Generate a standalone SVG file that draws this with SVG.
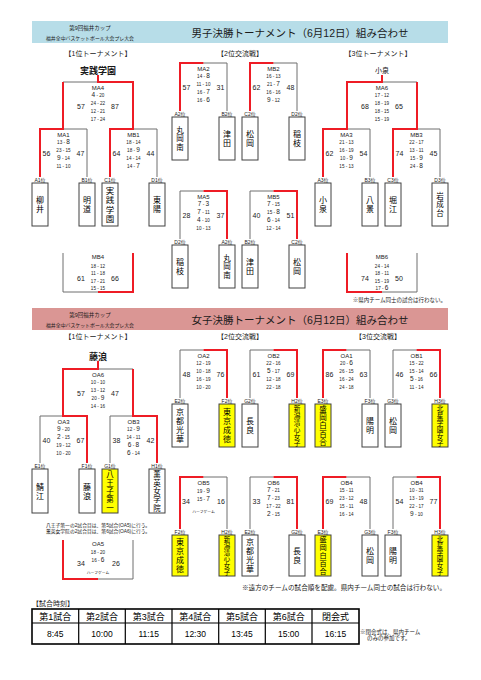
<svg xmlns="http://www.w3.org/2000/svg" width="481" height="680" viewBox="0 0 481 680">
<style>
text{font-family:"Liberation Sans","Noto Sans CJK JP",sans-serif;fill:#1a1a1a}
.ml{font-size:6px;text-anchor:middle}
.s{font-size:4.6px;text-anchor:middle}
.d{font-size:6.5px}
.t{font-size:7px;text-anchor:middle}
.pl{font-size:5px;text-anchor:middle}
.tn{font-size:8px;text-anchor:middle;fill:#000}
.t3{font-size:7.5px;text-anchor:middle;fill:#000}
.t5{font-size:7.5px;text-anchor:middle;fill:#000}
.t6{font-size:6.6px;text-anchor:middle;fill:#000}
.hs{font-size:5.5px;text-anchor:middle}
.hs2{font-size:4.9px;text-anchor:middle}
.ttl{font-size:10.5px;text-anchor:middle}
.sub{font-size:7px;text-anchor:middle}
.win{font-size:9px;font-weight:bold;text-anchor:middle}
.hf{font-size:3.8px;text-anchor:middle}
.nt{font-size:4.8px;text-anchor:middle}
.g{fill:none;stroke:#6e6e6e;stroke-width:1}
.r{fill:none;stroke:#ee1c25;stroke-width:2}
.bx{fill:#fff;stroke:#404040;stroke-width:1}
.yb{fill:#ffff00;stroke:#404040;stroke-width:1}
.th{font-size:9px;text-anchor:middle;fill:#000}
.td{font-size:8.5px;text-anchor:middle;fill:#000}
</style>
<rect width="481" height="680" fill="#fff"/>

<!-- ===== headers ===== -->
<g id="header-boys">
<rect x="32" y="21" width="416" height="22" fill="#b7dde8"/>
<text class="hs" x="90" y="29.5">第9回福井カップ</text>
<text class="hs2" x="90" y="40">福井全中バスケットボール大会プレ大会</text>
<text class="ttl" x="300" y="36.5">男子決勝トーナメント（6月12日）組み合わせ</text>
<text class="sub" x="98" y="55.5">【1位トーナメント】</text>
<text class="sub" x="240" y="55.5">【2位交流戦】</text>
<text class="sub" x="378" y="55.5">【3位トーナメント】</text>
</g>
<g id="header-girls">
<rect x="32" y="308" width="416" height="22" fill="#da9694"/>
<text class="hs" x="90" y="316.5">第9回福井カップ</text>
<text class="hs2" x="90" y="327">福井全中バスケットボール大会プレ大会</text>
<text class="ttl" x="300" y="323.5">女子決勝トーナメント（6月12日）組み合わせ</text>
<text class="sub" x="98" y="339">【1位トーナメント】</text>
<text class="sub" x="240" y="339">【2位交流戦】</text>
<text class="sub" x="378" y="339">【3位交流戦】</text>
</g>

<!-- ===== connectors ===== -->
<g id="connectors">
<!-- boys left -->
<path class="g" d="M63,82 H98"/>
<path class="g" d="M63,129 H87 V177"/>
<path class="g" d="M133,129 H157 V177"/>
<path class="r" d="M98,75 V82 H133 V129 H110 V177"/>
<path class="r" d="M63,82 V129 H40 V177"/>
<path class="g" d="M98,292 H63 V253"/>
<path class="r" d="M98,292 H133 V253"/>
<!-- boys middle -->
<path class="r" d="M203.5,63 H180 V111"/>
<path class="g" d="M203.5,63 H227 V111"/>
<path class="r" d="M273.5,63 H250 V111"/>
<path class="g" d="M273.5,63 H297 V111"/>
<path class="g" d="M203.5,191 H180 V239"/>
<path class="r" d="M203.5,191 H227 V239"/>
<path class="g" d="M273.5,191 H250 V239"/>
<path class="r" d="M273.5,191 H297 V239"/>
<!-- boys right -->
<path class="g" d="M382,82 H417"/>
<path class="g" d="M347,129 H370 V177"/>
<path class="g" d="M417,129 H440 V177"/>
<path class="r" d="M382,75 V82 H347 V129 H323 V177"/>
<path class="r" d="M417,82 V129 H393 V177"/>
<path class="r" d="M347,253 V292 H382"/>
<path class="g" d="M382,292 H417 V253"/>
<!-- girls left -->
<path class="g" d="M98,369 H133"/>
<path class="g" d="M63,416 H40 V463"/>
<path class="g" d="M133,416 H110 V463"/>
<path class="r" d="M98,361 V369 H63 V416 H87 V463"/>
<path class="r" d="M133,369 V416 H157 V463"/>
<path class="r" d="M63,540 V579 H98"/>
<path class="g" d="M98,579 H133 V540"/>
<!-- girls middle -->
<path class="g" d="M203.5,350 H180 V398"/>
<path class="r" d="M203.5,350 H227 V398"/>
<path class="g" d="M273.5,350 H250 V398"/>
<path class="r" d="M273.5,350 H297 V398"/>
<path class="r" d="M203.5,477 H180 V529"/>
<path class="g" d="M203.5,477 H227 V529"/>
<path class="g" d="M273.5,477 H250 V529"/>
<path class="r" d="M273.5,477 H297 V529"/>
<!-- girls right -->
<path class="r" d="M346.5,350 H323 V398"/>
<path class="g" d="M346.5,350 H370 V398"/>
<path class="g" d="M416.5,350 H393 V398"/>
<path class="r" d="M416.5,350 H440 V398"/>
<path class="r" d="M346.5,477 H323 V529"/>
<path class="g" d="M346.5,477 H370 V529"/>
<path class="g" d="M416.5,477 H393 V529"/>
<path class="r" d="M416.5,477 H440 V529"/>
</g>

<!-- ===== winners ===== -->
<g id="winner-boys-1"><text class="win" x="98" y="73.5">実践学園</text></g>
<g id="winner-boys-3"><text class="sub" x="382" y="73">小泉</text></g>
<g id="winner-girls-1"><text class="win" x="98" y="359.5">藤浪</text></g>

<!-- ===== matches (boys) ===== -->
<g id="MA4">
<text class="ml" x="98" y="89.5">MA4</text>
<text class="s" x="98" y="96.5"><tspan class="d">4</tspan> - 20</text>
<text class="s" x="98" y="104.5">24 - 22</text>
<text class="s" x="98" y="112.5">12 - 21</text>
<text class="s" x="98" y="120.5">17 - 24</text>
<text class="t" x="81" y="108.5">57</text>
<text class="t" x="115" y="108.5">87</text>
</g>
<g id="MA1">
<text class="ml" x="63.5" y="136.5">MA1</text>
<text class="s" x="63.5" y="143.5">13 - <tspan class="d">8</tspan></text>
<text class="s" x="63.5" y="151.5">23 - 15</text>
<text class="s" x="63.5" y="159.5"><tspan class="d">9</tspan> - 14</text>
<text class="s" x="63.5" y="167.5">11 - 10</text>
<text class="t" x="46.5" y="155.5">56</text>
<text class="t" x="80.5" y="155.5">47</text>
</g>
<g id="MB1">
<text class="ml" x="133.5" y="136.5">MB1</text>
<text class="s" x="133.5" y="143.5">18 - 14</text>
<text class="s" x="133.5" y="151.5">18 - <tspan class="d">9</tspan></text>
<text class="s" x="133.5" y="159.5">14 - 14</text>
<text class="s" x="133.5" y="167.5">14 - <tspan class="d">7</tspan></text>
<text class="t" x="116.5" y="155.5">64</text>
<text class="t" x="150.5" y="155.5">44</text>
</g>
<g id="MB4">
<text class="ml" x="98" y="259">MB4</text>
<text class="s" x="98" y="267.5">18 - 12</text>
<text class="s" x="98" y="275">11 - 18</text>
<text class="s" x="98" y="282.5">17 - 21</text>
<text class="s" x="98" y="290">15 - 15</text>
<text class="t" x="81" y="280.5">61</text>
<text class="t" x="115" y="280.5">66</text>
</g>
<g id="MA2">
<text class="ml" x="203.5" y="70.5">MA2</text>
<text class="s" x="203.5" y="77.5">14 - <tspan class="d">8</tspan></text>
<text class="s" x="203.5" y="85.5">11 - 10</text>
<text class="s" x="203.5" y="93.5">16 - <tspan class="d">7</tspan></text>
<text class="s" x="203.5" y="101.5">16 - <tspan class="d">6</tspan></text>
<text class="t" x="186.5" y="89.5">57</text>
<text class="t" x="220.5" y="89.5">31</text>
</g>
<g id="MB2">
<text class="ml" x="273.5" y="70.5">MB2</text>
<text class="s" x="273.5" y="77.5">16 - 13</text>
<text class="s" x="273.5" y="85.5">21 - <tspan class="d">7</tspan></text>
<text class="s" x="273.5" y="93.5">16 - 16</text>
<text class="s" x="273.5" y="101.5"><tspan class="d">9</tspan> - 12</text>
<text class="t" x="256.5" y="89.5">62</text>
<text class="t" x="290.5" y="89.5">48</text>
</g>
<g id="MA5">
<text class="ml" x="203.5" y="198.5">MA5</text>
<text class="s" x="203.5" y="205.5"><tspan class="d">7</tspan> - <tspan class="d">3</tspan></text>
<text class="s" x="203.5" y="213.5"><tspan class="d">7</tspan> - 11</text>
<text class="s" x="203.5" y="221.5"><tspan class="d">4</tspan> - 10</text>
<text class="s" x="203.5" y="229.5">10 - 13</text>
<text class="t" x="186.5" y="217.5">28</text>
<text class="t" x="220.5" y="217.5">37</text>
</g>
<g id="MB5">
<text class="ml" x="273.5" y="198.5">MB5</text>
<text class="s" x="273.5" y="205.5"><tspan class="d">7</tspan> - 15</text>
<text class="s" x="273.5" y="213.5">15 - <tspan class="d">8</tspan></text>
<text class="s" x="273.5" y="221.5"><tspan class="d">6</tspan> - 14</text>
<text class="s" x="273.5" y="229.5">12 - 14</text>
<text class="t" x="256.5" y="217.5">40</text>
<text class="t" x="290.5" y="217.5">51</text>
</g>
<g id="MA6">
<text class="ml" x="382" y="89.5">MA6</text>
<text class="s" x="382" y="96.5">17 - 12</text>
<text class="s" x="382" y="104.5">18 - 19</text>
<text class="s" x="382" y="112.5">18 - 15</text>
<text class="s" x="382" y="120.5">15 - 19</text>
<text class="t" x="365" y="108.5">68</text>
<text class="t" x="399" y="108.5">65</text>
</g>
<g id="MA3">
<text class="ml" x="346.5" y="136.5">MA3</text>
<text class="s" x="346.5" y="143.5">21 - 13</text>
<text class="s" x="346.5" y="151.5">16 - 19</text>
<text class="s" x="346.5" y="159.5">10 - <tspan class="d">9</tspan></text>
<text class="s" x="346.5" y="167.5">15 - 13</text>
<text class="t" x="329.5" y="155.5">62</text>
<text class="t" x="363.5" y="155.5">54</text>
</g>
<g id="MB3">
<text class="ml" x="416.5" y="136.5">MB3</text>
<text class="s" x="416.5" y="143.5">22 - 17</text>
<text class="s" x="416.5" y="151.5">13 - 11</text>
<text class="s" x="416.5" y="159.5">15 - <tspan class="d">9</tspan></text>
<text class="s" x="416.5" y="167.5">24 - <tspan class="d">8</tspan></text>
<text class="t" x="399.5" y="155.5">74</text>
<text class="t" x="433.5" y="155.5">45</text>
</g>
<g id="MB6">
<text class="ml" x="382" y="259">MB6</text>
<text class="s" x="382" y="267.5">24 - 14</text>
<text class="s" x="382" y="275">18 - 11</text>
<text class="s" x="382" y="282.5">15 - 19</text>
<text class="s" x="382" y="290">17 - <tspan class="d">6</tspan></text>
<text class="t" x="365" y="280.5">74</text>
<text class="t" x="399" y="280.5">50</text>
</g>
<g id="note-boys"><text x="446" y="302" style="font-size:5.5px;text-anchor:end">※県内チーム同士の試合は行わない。</text></g>

<!-- ===== matches (girls) ===== -->
<g id="OA6">
<text class="ml" x="98" y="376.5">OA6</text>
<text class="s" x="98" y="383.5">10 - 10</text>
<text class="s" x="98" y="391.5">13 - 12</text>
<text class="s" x="98" y="399.5">20 - <tspan class="d">9</tspan></text>
<text class="s" x="98" y="407.5">14 - 16</text>
<text class="t" x="81" y="395.5">57</text>
<text class="t" x="115" y="395.5">47</text>
</g>
<g id="OA3">
<text class="ml" x="63.5" y="423.5">OA3</text>
<text class="s" x="63.5" y="430.5"><tspan class="d">9</tspan> - 20</text>
<text class="s" x="63.5" y="438.5"><tspan class="d">2</tspan> - 15</text>
<text class="s" x="63.5" y="446.5">19 - 12</text>
<text class="s" x="63.5" y="454.5">10 - 20</text>
<text class="t" x="46.5" y="442.5">40</text>
<text class="t" x="80.5" y="442.5">67</text>
</g>
<g id="OB3">
<text class="ml" x="133.5" y="423.5">OB3</text>
<text class="s" x="133.5" y="430.5">12 - <tspan class="d">9</tspan></text>
<text class="s" x="133.5" y="438.5">14 - 11</text>
<text class="s" x="133.5" y="446.5"><tspan class="d">6</tspan> - <tspan class="d">8</tspan></text>
<text class="s" x="133.5" y="454.5"><tspan class="d">6</tspan> - 14</text>
<text class="t" x="116.5" y="442.5">38</text>
<text class="t" x="150.5" y="442.5">42</text>
</g>
<g id="note-girls-1">
<text class="nt" x="98" y="527">八王子第一の2試合目は、第5試合(OA5)に行う。</text>
<text class="nt" x="98" y="533">薫英女学院の2試合目は、第6試合(OA6)に行う。</text>
</g>
<g id="OA5">
<text class="ml" x="98" y="545.5">OA5</text>
<text class="s" x="98" y="554">18 - 20</text>
<text class="s" x="98" y="562">16 - <tspan class="d">6</tspan></text>
<text class="hf" x="98" y="573.5">ハーフゲーム</text>
<text class="t" x="81" y="565.5">34</text>
<text class="t" x="116" y="565.5">26</text>
</g>
<g id="OA2">
<text class="ml" x="203.5" y="357.5">OA2</text>
<text class="s" x="203.5" y="364.5">12 - 19</text>
<text class="s" x="203.5" y="372.5">10 - 18</text>
<text class="s" x="203.5" y="380.5">16 - 19</text>
<text class="s" x="203.5" y="388.5">10 - 20</text>
<text class="t" x="186.5" y="376.5">48</text>
<text class="t" x="220.5" y="376.5">76</text>
</g>
<g id="OB2">
<text class="ml" x="273.5" y="357.5">OB2</text>
<text class="s" x="273.5" y="364.5">22 - 16</text>
<text class="s" x="273.5" y="372.5"><tspan class="d">5</tspan> - 17</text>
<text class="s" x="273.5" y="380.5">12 - 18</text>
<text class="s" x="273.5" y="388.5">22 - 18</text>
<text class="t" x="256.5" y="376.5">61</text>
<text class="t" x="290.5" y="376.5">69</text>
</g>
<g id="OB5">
<text class="ml" x="203.5" y="485">OB5</text>
<text class="s" x="203.5" y="493">19 - <tspan class="d">9</tspan></text>
<text class="s" x="203.5" y="500.5">15 - <tspan class="d">7</tspan></text>
<text class="hf" x="203.5" y="512.5">ハーフゲーム</text>
<text class="t" x="186" y="504">34</text>
<text class="t" x="221" y="504">16</text>
</g>
<g id="OB6">
<text class="ml" x="273.5" y="484.5">OB6</text>
<text class="s" x="273.5" y="491.5"><tspan class="d">7</tspan> - 21</text>
<text class="s" x="273.5" y="499.5"><tspan class="d">7</tspan> - 23</text>
<text class="s" x="273.5" y="507.5">17 - 22</text>
<text class="s" x="273.5" y="515.5"><tspan class="d">2</tspan> - 15</text>
<text class="t" x="256.5" y="503.5">33</text>
<text class="t" x="290.5" y="503.5">81</text>
</g>
<g id="OA1">
<text class="ml" x="346.5" y="357.5">OA1</text>
<text class="s" x="346.5" y="364.5">20 - <tspan class="d">6</tspan></text>
<text class="s" x="346.5" y="372.5">26 - 15</text>
<text class="s" x="346.5" y="380.5">16 - 24</text>
<text class="s" x="346.5" y="388.5">24 - 18</text>
<text class="t" x="329.5" y="376.5">86</text>
<text class="t" x="363.5" y="376.5">63</text>
</g>
<g id="OB1">
<text class="ml" x="416.5" y="357.5">OB1</text>
<text class="s" x="416.5" y="364.5">15 - 22</text>
<text class="s" x="416.5" y="372.5">15 - 14</text>
<text class="s" x="416.5" y="380.5"><tspan class="d">5</tspan> - 16</text>
<text class="s" x="416.5" y="388.5">11 - 14</text>
<text class="t" x="399.5" y="376.5">46</text>
<text class="t" x="433.5" y="376.5">66</text>
</g>
<g id="OB4-a">
<text class="ml" x="346.5" y="484.5">OB4</text>
<text class="s" x="346.5" y="491.5">15 - 11</text>
<text class="s" x="346.5" y="499.5">23 - 12</text>
<text class="s" x="346.5" y="507.5">15 - 11</text>
<text class="s" x="346.5" y="515.5">16 - 14</text>
<text class="t" x="329.5" y="503.5">69</text>
<text class="t" x="363.5" y="503.5">48</text>
</g>
<g id="OB4-b">
<text class="ml" x="416.5" y="484.5">OB4</text>
<text class="s" x="416.5" y="491.5">10 - 31</text>
<text class="s" x="416.5" y="499.5">13 - 19</text>
<text class="s" x="416.5" y="507.5">22 - 17</text>
<text class="s" x="416.5" y="515.5"><tspan class="d">9</tspan> - 10</text>
<text class="t" x="399.5" y="503.5">54</text>
<text class="t" x="433.5" y="503.5">77</text>
</g>
<g id="note-girls-2"><text x="446" y="589.5" style="font-size:6.6px;text-anchor:end">※遠方のチームの試合順を配慮。県内チーム同士の試合は行わない。</text></g>

<!-- ===== team boxes (boys) ===== -->
<g id="b-A1"><text class="pl" x="40" y="182">A1位</text><rect class="bx" x="32" y="183" width="16" height="43"/><text class="tn"><tspan x="40" y="203">柳</tspan><tspan x="40" y="212">井</tspan></text></g>
<g id="b-B1"><text class="pl" x="87" y="182">B1位</text><rect class="bx" x="79" y="183" width="16" height="43"/><text class="tn"><tspan x="87" y="203">明</tspan><tspan x="87" y="212">道</tspan></text></g>
<g id="b-C1"><text class="pl" x="110" y="182">C1位</text><rect class="bx" x="102" y="183" width="16" height="43"/><text class="tn" style="font-size:8.5px"><tspan x="110" y="193.5">実</tspan><tspan x="110" y="203">践</tspan><tspan x="110" y="212.5">学</tspan><tspan x="110" y="222">園</tspan></text></g>
<g id="b-D1"><text class="pl" x="157" y="182">D1位</text><rect class="bx" x="149" y="183" width="16" height="43"/><text class="tn"><tspan x="157" y="203">東</tspan><tspan x="157" y="212">陽</tspan></text></g>

<g id="b-A2a"><text class="pl" x="180" y="116">A2位</text><rect class="bx" x="172" y="117" width="16" height="43"/><text class="t3"><tspan x="180" y="133.2">丸</tspan><tspan x="180" y="141.4">岡</tspan><tspan x="180" y="149.6">南</tspan></text></g>
<g id="b-B2a"><text class="pl" x="227" y="116">B2位</text><rect class="bx" x="219" y="117" width="16" height="43"/><text class="tn"><tspan x="227" y="137">津</tspan><tspan x="227" y="146">田</tspan></text></g>
<g id="b-C2a"><text class="pl" x="250" y="116">C2位</text><rect class="bx" x="242" y="117" width="16" height="43"/><text class="tn"><tspan x="250" y="137">松</tspan><tspan x="250" y="146">岡</tspan></text></g>
<g id="b-D2a"><text class="pl" x="297" y="116">D2位</text><rect class="bx" x="289" y="117" width="16" height="43"/><text class="tn"><tspan x="297" y="137">稲</tspan><tspan x="297" y="146">枝</tspan></text></g>

<g id="b-D2b"><text class="pl" x="180" y="244">D2位</text><rect class="bx" x="172" y="245" width="16" height="43"/><text class="tn"><tspan x="180" y="265">稲</tspan><tspan x="180" y="274">枝</tspan></text></g>
<g id="b-A2b"><text class="pl" x="227" y="244">A2位</text><rect class="bx" x="219" y="245" width="16" height="43"/><text class="t3"><tspan x="227" y="261.2">丸</tspan><tspan x="227" y="269.4">岡</tspan><tspan x="227" y="277.6">南</tspan></text></g>
<g id="b-B2b"><text class="pl" x="250" y="244">B2位</text><rect class="bx" x="242" y="245" width="16" height="43"/><text class="tn"><tspan x="250" y="265">津</tspan><tspan x="250" y="274">田</tspan></text></g>
<g id="b-C2b"><text class="pl" x="297" y="244">C2位</text><rect class="bx" x="289" y="245" width="16" height="43"/><text class="tn"><tspan x="297" y="265">松</tspan><tspan x="297" y="274">岡</tspan></text></g>

<g id="b-A3"><text class="pl" x="323" y="182">A3位</text><rect class="bx" x="315" y="183" width="16" height="43"/><text class="tn"><tspan x="323" y="203">小</tspan><tspan x="323" y="212">泉</tspan></text></g>
<g id="b-B3"><text class="pl" x="370" y="182">B3位</text><rect class="bx" x="362" y="183" width="16" height="43"/><text class="tn"><tspan x="370" y="203">八</tspan><tspan x="370" y="212">景</tspan></text></g>
<g id="b-C3"><text class="pl" x="393" y="182">C3位</text><rect class="bx" x="385" y="183" width="16" height="43"/><text class="tn"><tspan x="393" y="203">堀</tspan><tspan x="393" y="212">江</tspan></text></g>
<g id="b-D3"><text class="pl" x="440" y="182">D3位</text><rect class="bx" x="432" y="183" width="16" height="43"/><text class="t3"><tspan x="440" y="199.2">岩</tspan><tspan x="440" y="207.4">成</tspan><tspan x="440" y="215.6">台</tspan></text></g>

<!-- ===== team boxes (girls) ===== -->
<g id="g-E1"><text class="pl" x="40" y="468">E1位</text><rect class="bx" x="32" y="469" width="16" height="44"/><text class="tn"><tspan x="40" y="489.5">鯖</tspan><tspan x="40" y="498.5">江</tspan></text></g>
<g id="g-F1"><text class="pl" x="87" y="468">F1位</text><rect class="bx" x="79" y="469" width="16" height="44"/><text class="tn"><tspan x="87" y="489.5">藤</tspan><tspan x="87" y="498.5">浪</tspan></text></g>
<g id="g-G1"><text class="pl" x="110" y="468">G1位</text><rect class="yb" x="102" y="469" width="16" height="44"/><text class="t5"><tspan x="110" y="477">八</tspan><tspan x="110" y="485.5">王</tspan><tspan x="110" y="493.9">子</tspan><tspan x="110" y="502.3">第</tspan><tspan x="110" y="510.7">一</tspan></text></g>
<g id="g-H1"><text class="pl" x="157" y="468">H1位</text><rect class="bx" x="149" y="469" width="16" height="44"/><text class="t5"><tspan x="157" y="477">薫</tspan><tspan x="157" y="485.5">英</tspan><tspan x="157" y="493.9">女</tspan><tspan x="157" y="502.3">学</tspan><tspan x="157" y="510.7">院</tspan></text></g>

<g id="g-E2a"><text class="pl" x="180" y="403">E2位</text><rect class="bx" x="172" y="404" width="16" height="43"/><text class="tn"><tspan x="180" y="415">京</tspan><tspan x="180" y="424">都</tspan><tspan x="180" y="433">光</tspan><tspan x="180" y="442">華</tspan></text></g>
<g id="g-F2a"><text class="pl" x="227" y="403">F2位</text><rect class="yb" x="219" y="404" width="16" height="43"/><text class="tn"><tspan x="227" y="415">東</tspan><tspan x="227" y="424">京</tspan><tspan x="227" y="433">成</tspan><tspan x="227" y="442">徳</tspan></text></g>
<g id="g-G2a"><text class="pl" x="250" y="403">G2位</text><rect class="bx" x="242" y="404" width="16" height="43"/><text class="tn"><tspan x="250" y="424">長</tspan><tspan x="250" y="433">良</tspan></text></g>
<g id="g-H2a"><text class="pl" x="297" y="403">H2位</text><rect class="yb" x="289" y="404" width="16" height="43"/><text class="t6"><tspan x="297" y="410.6">新</tspan><tspan x="297" y="417.6">潟</tspan><tspan x="297" y="424.6">清</tspan><tspan x="297" y="431.6">心</tspan><tspan x="297" y="438.6">女</tspan><tspan x="297" y="445.6">子</tspan></text></g>

<g id="g-F2b"><text class="pl" x="180" y="534">F2位</text><rect class="yb" x="172" y="535" width="16" height="41"/><text class="tn"><tspan x="180" y="545.3">東</tspan><tspan x="180" y="554.1">京</tspan><tspan x="180" y="562.9">成</tspan><tspan x="180" y="571.7">徳</tspan></text></g>
<g id="g-H2b"><text class="pl" x="227" y="534">H2位</text><rect class="yb" x="219" y="535" width="16" height="41"/><text class="t6" style="font-size:6.4px"><tspan x="227" y="541.5">新</tspan><tspan x="227" y="548.1">潟</tspan><tspan x="227" y="554.7">清</tspan><tspan x="227" y="561.3">心</tspan><tspan x="227" y="567.9">女</tspan><tspan x="227" y="574.5">子</tspan></text></g>
<g id="g-E2b"><text class="pl" x="250" y="534">E2位</text><rect class="bx" x="242" y="535" width="16" height="41"/><text class="tn"><tspan x="250" y="545.3">京</tspan><tspan x="250" y="554.1">都</tspan><tspan x="250" y="562.9">光</tspan><tspan x="250" y="571.7">華</tspan></text></g>
<g id="g-G2b"><text class="pl" x="297" y="534">G2位</text><rect class="bx" x="289" y="535" width="16" height="41"/><text class="tn"><tspan x="297" y="554">長</tspan><tspan x="297" y="563">良</tspan></text></g>

<g id="g-E3a"><text class="pl" x="323" y="403">E3位</text><rect class="yb" x="315" y="404" width="16" height="43"/><text class="t5"><tspan x="323" y="412">盛</tspan><tspan x="323" y="420.2">岡</tspan><tspan x="323" y="428.4">白</tspan><tspan x="323" y="436.6">百</tspan><tspan x="323" y="444.8">合</tspan></text></g>
<g id="g-F3a"><text class="pl" x="370" y="403">F3位</text><rect class="bx" x="362" y="404" width="16" height="43"/><text class="tn"><tspan x="370" y="424">陽</tspan><tspan x="370" y="433">明</tspan></text></g>
<g id="g-G3a"><text class="pl" x="393" y="403">G3位</text><rect class="bx" x="385" y="404" width="16" height="43"/><text class="tn"><tspan x="393" y="424">松</tspan><tspan x="393" y="433">岡</tspan></text></g>
<g id="g-H3a"><text class="pl" x="440" y="403">H3位</text><rect class="yb" x="432" y="404" width="16" height="43"/><text class="t6"><tspan x="440" y="410.6">北</tspan><tspan x="440" y="417.6">星</tspan><tspan x="440" y="424.6">学</tspan><tspan x="440" y="431.6">園</tspan><tspan x="440" y="438.6">女</tspan><tspan x="440" y="445.6">子</tspan></text></g>

<g id="g-E3b"><text class="pl" x="323" y="534">E3位</text><rect class="yb" x="315" y="535" width="16" height="41"/><text class="t5" style="font-size:7.2px"><tspan x="323" y="542.4">盛</tspan><tspan x="323" y="550.4">岡</tspan><tspan x="323" y="558.4">白</tspan><tspan x="323" y="566.4">百</tspan><tspan x="323" y="574.4">合</tspan></text></g>
<g id="g-G3b"><text class="pl" x="370" y="534">G3位</text><rect class="bx" x="362" y="535" width="16" height="41"/><text class="tn"><tspan x="370" y="554">松</tspan><tspan x="370" y="563">岡</tspan></text></g>
<g id="g-F3b"><text class="pl" x="393" y="534">F3位</text><rect class="bx" x="385" y="535" width="16" height="41"/><text class="tn"><tspan x="393" y="554">陽</tspan><tspan x="393" y="563">明</tspan></text></g>
<g id="g-H3b"><text class="pl" x="440" y="534">H3位</text><rect class="yb" x="432" y="535" width="16" height="41"/><text class="t6" style="font-size:6.4px"><tspan x="440" y="541.5">北</tspan><tspan x="440" y="548.1">星</tspan><tspan x="440" y="554.7">学</tspan><tspan x="440" y="561.3">園</tspan><tspan x="440" y="567.9">女</tspan><tspan x="440" y="574.5">子</tspan></text></g>

<!-- ===== schedule table ===== -->
<g id="schedule">
<text x="32" y="605.5" style="font-size:7px">【試合時刻】</text>
<rect x="32" y="609" width="327" height="35" fill="#fff" stroke="#000" stroke-width="1.6"/>
<path d="M32,623 H359 M78.7,609 V644 M125.3,609 V644 M172,609 V644 M218.7,609 V644 M265.3,609 V644 M312,609 V644" stroke="#000" stroke-width="1.2" fill="none"/>
<text class="th" x="55.3" y="619.5">第1試合</text>
<text class="th" x="102" y="619.5">第2試合</text>
<text class="th" x="148.7" y="619.5">第3試合</text>
<text class="th" x="195.3" y="619.5">第4試合</text>
<text class="th" x="242" y="619.5">第5試合</text>
<text class="th" x="288.7" y="619.5">第6試合</text>
<text class="th" x="335.5" y="619.5">閉会式</text>
<text class="td" x="55.3" y="637">8:45</text>
<text class="td" x="102" y="637">10:00</text>
<text class="td" x="148.7" y="637">11:15</text>
<text class="td" x="195.3" y="637">12:30</text>
<text class="td" x="242" y="637">13:45</text>
<text class="td" x="288.7" y="637">15:00</text>
<text class="td" x="335.5" y="637">16:15</text>
<text x="360" y="633.5" style="font-size:5.5px">※閉会式は、県内チーム</text>
<text x="367" y="639.5" style="font-size:5.5px">のみの参加です。</text>
</g>
</svg>
